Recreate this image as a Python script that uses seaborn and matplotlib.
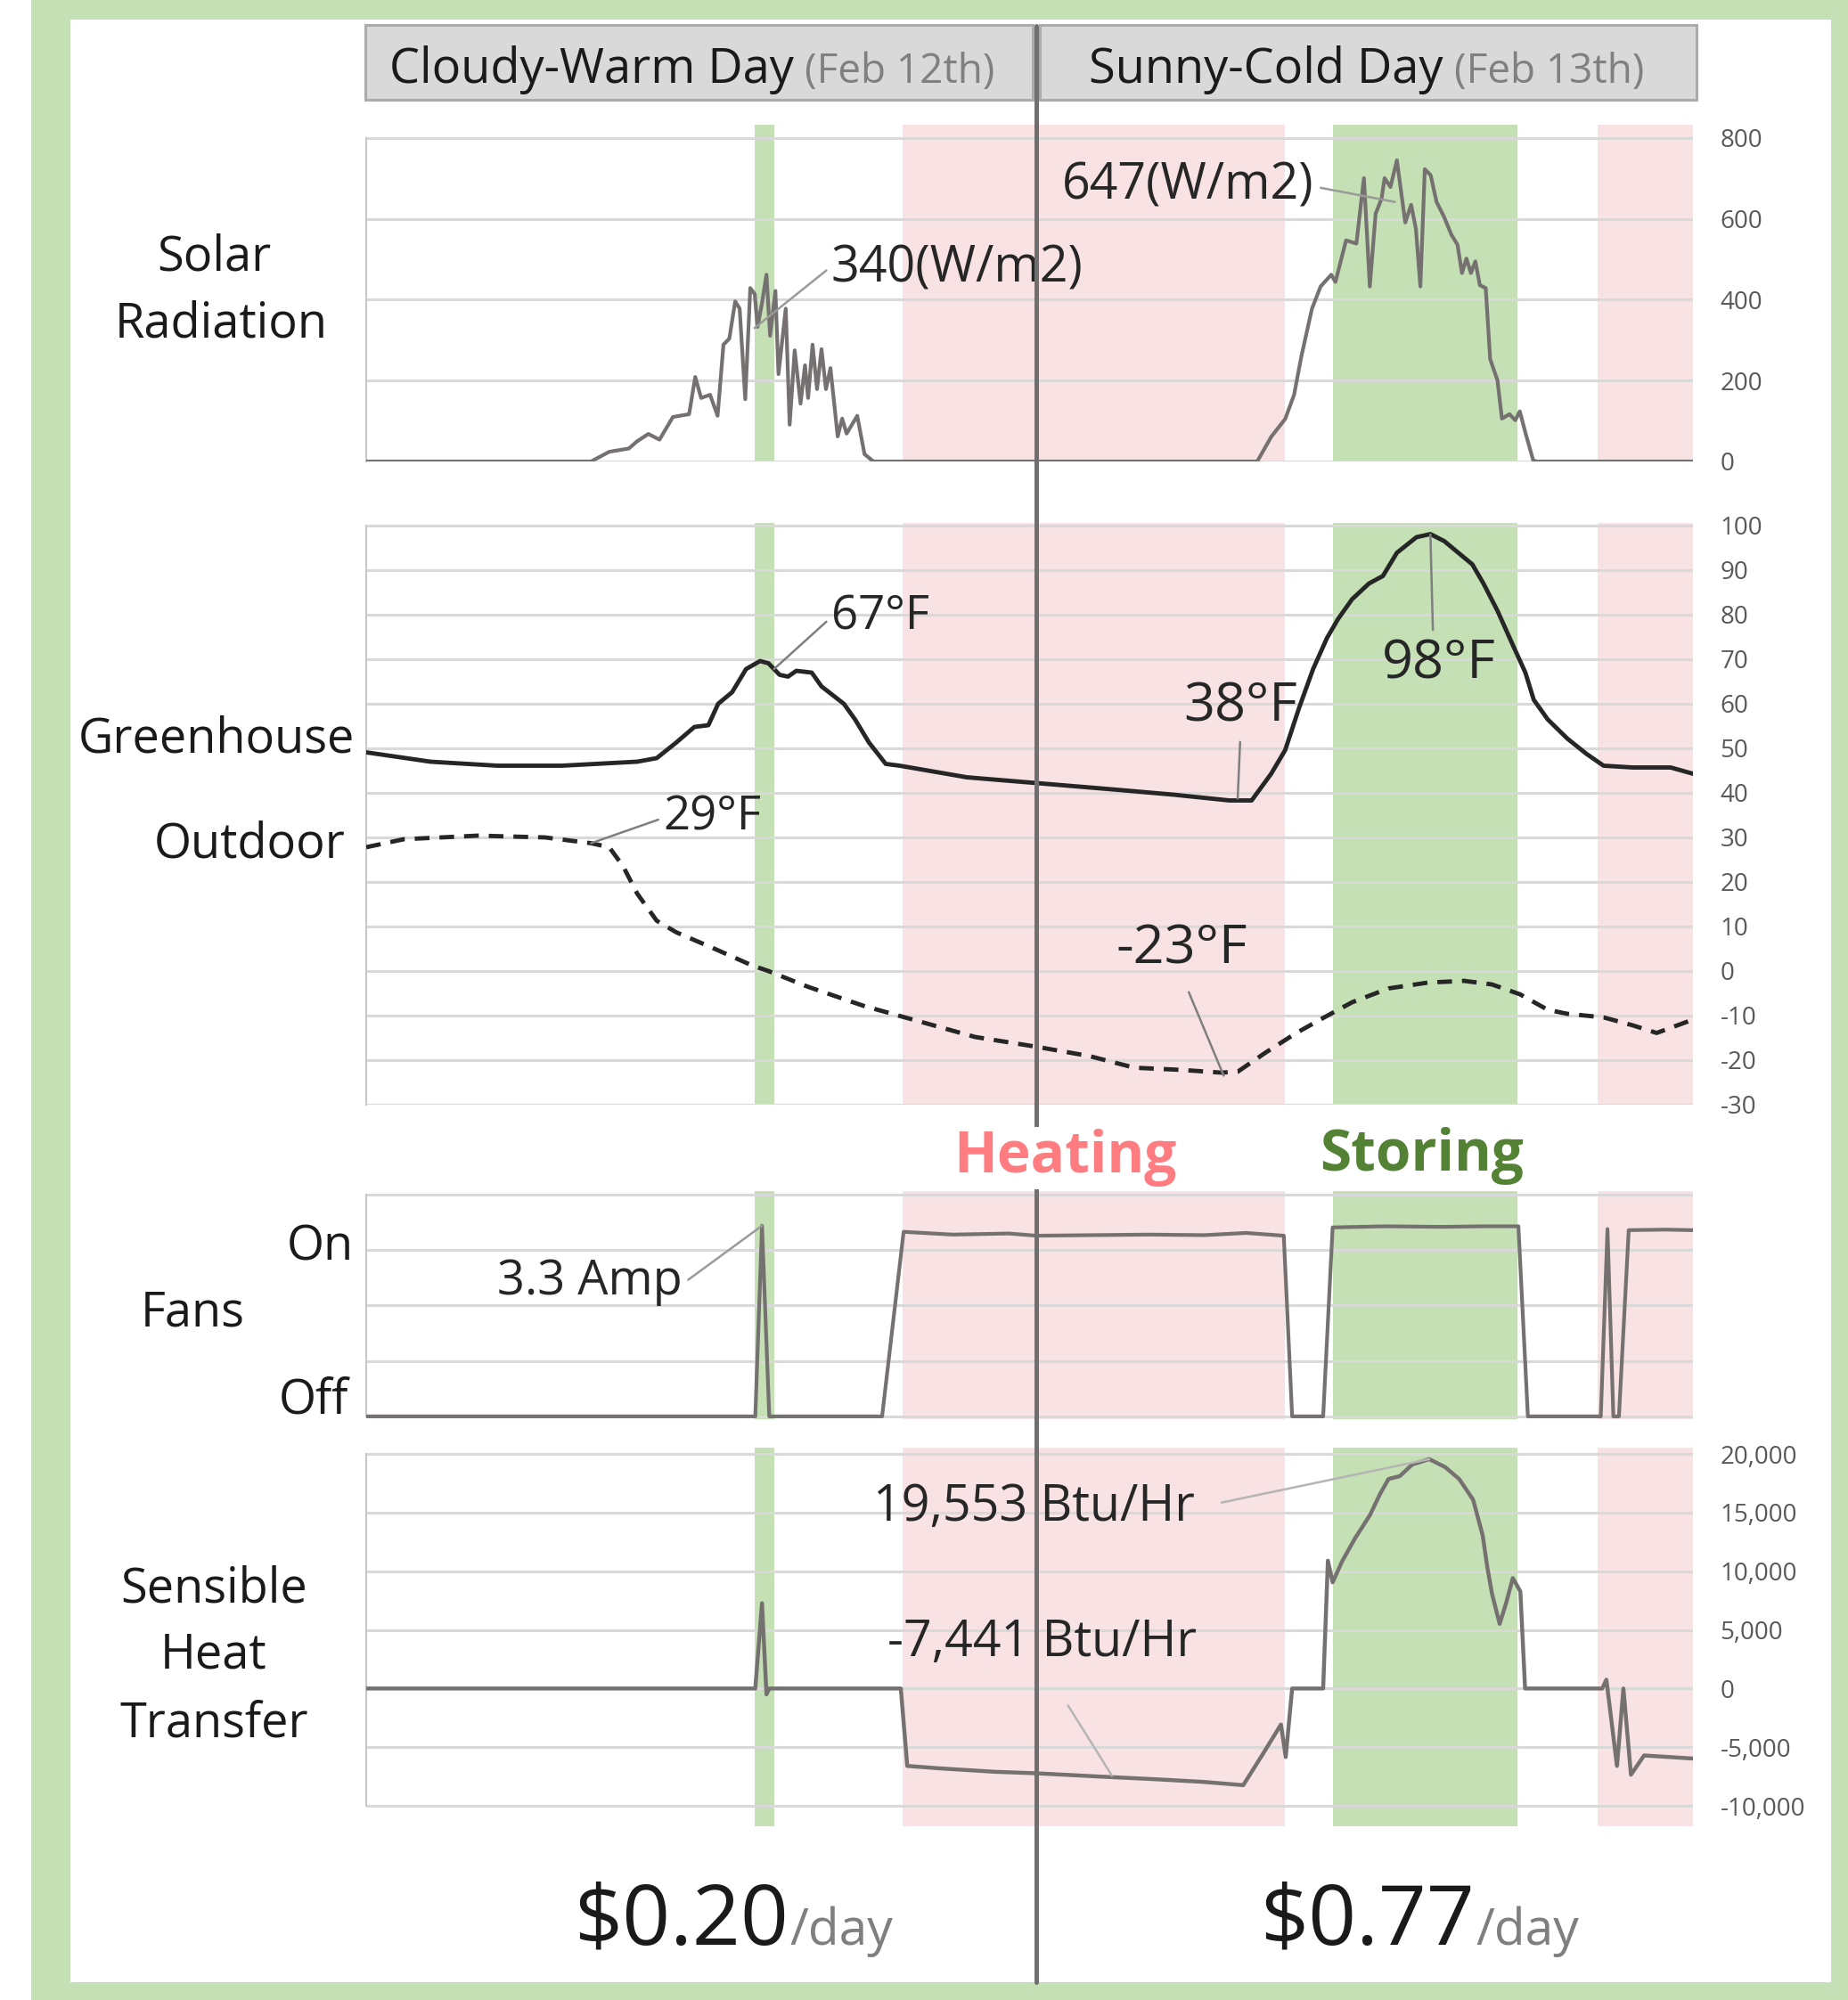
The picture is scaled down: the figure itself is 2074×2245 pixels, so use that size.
import numpy as np
import pandas as pd
import matplotlib
matplotlib.use("Agg")
import matplotlib.pyplot as plt
import seaborn as sns
from matplotlib.patches import Rectangle
from matplotlib.lines import Line2D

# ------------------------------------------------------------------ data
solar_hours = [0, 8.05, 8.7, 9.4, 9.7, 10.1, 10.5, 10.98, 11.56, 11.78,
               11.99, 12.31, 12.58, 12.79, 13.0, 13.21, 13.37, 13.57, 13.75, 13.91,
               14.01, 14.17, 14.33, 14.46, 14.65, 14.76, 15.02, 15.16, 15.34, 15.55,
               15.71, 15.82, 15.98, 16.14, 16.3, 16.46, 16.62, 16.88, 17.04, 17.2,
               17.58, 17.84, 18.16,
               31.9, 32.4, 32.9, 33.22, 33.48, 33.86, 34.17, 34.55, 34.7, 35.08,
               35.45, 35.72, 35.93, 36.14, 36.35, 36.46, 36.67, 36.9, 37.2, 37.41,
               37.58, 37.74, 37.9, 38.11, 38.32, 38.59, 38.85, 39.07, 39.23, 39.39,
               39.55, 39.71, 39.87, 40.08, 40.24, 40.5, 40.66, 40.93, 41.14, 41.3,
               41.51, 41.78, 41.9, 47.5]
solar_wm2 = [0, 0, 24, 32, 50, 68, 54, 110, 117, 209,
             157, 165, 113, 289, 304, 396, 378, 154, 429, 414,
             333, 392, 462, 311, 422, 216, 378, 91, 275, 143,
             238, 157, 289, 179, 278, 179, 231, 62, 106, 69,
             113, 18, 0,
             0, 61, 105, 165, 260, 378, 433, 462, 444, 547,
             539, 701, 433, 613, 650, 701, 679, 745, 591, 635,
             576, 433, 723, 708, 642, 605, 561, 536, 466, 502,
             466, 495, 436, 429, 253, 201, 106, 117, 102, 124,
             69, 3, 0, 0]

greenhouse_hours = [0, 2.3, 4.7, 7.0, 9.7, 10.4, 11.1, 11.75, 12.25, 12.6, 13.1, 13.6, 14.1, 14.4,
                    14.8, 15.1, 15.4, 15.95, 16.3, 17.1, 17.5, 18.0, 18.6, 19.1, 21.5, 24.0, 26.5,
                    28.9, 30.9, 31.7, 32.4, 32.9, 33.4, 33.9, 34.4, 34.8, 35.3, 35.9, 36.4, 36.9,
                    37.6, 38.1, 38.6, 39.1, 39.6, 40.0, 40.5, 41.0, 41.5, 41.8, 42.3, 43.0, 43.7,
                    44.3, 45.35, 46.7, 47.5]
greenhouse_temp = [49.1, 47.0, 46.1, 46.1, 47.0, 47.8, 51.3, 54.8, 55.2, 60.0, 62.6, 67.8, 69.6, 69.1,
                   66.5, 66.1, 67.4, 67.0, 63.9, 60.0, 56.5, 51.3, 46.5, 46.1, 43.5, 42.2, 40.9,
                   39.6, 38.3, 38.3, 44.3, 49.6, 59.1, 67.8, 74.8, 79.1, 83.5, 87.0, 88.7, 93.9,
                   97.4, 98.1, 96.5, 93.9, 91.3, 87.0, 80.9, 73.9, 67.0, 60.9, 56.5, 52.2, 48.7,
                   46.1, 45.7, 45.7, 44.3]

outdoor_hours = [0, 1.35, 4.0, 6.4, 8.05, 8.7, 9.2, 9.7, 10.4, 11.1, 12.4, 13.8, 14.4, 15.8, 17.8,
                 19.8, 21.8, 24.0, 25.9, 27.5, 29.2, 30.6, 31.2, 32.2, 33.3, 34.3, 35.3, 36.6,
                 38.0, 39.3, 40.3, 41.3, 42.3, 43.0, 44.3, 45.35, 46.2, 47.5]
outdoor_temp = [27.8, 29.6, 30.4, 30.0, 28.7, 27.8, 23.5, 17.4, 11.3, 8.7, 5.2, 1.3, 0.0, -3.5, -7.8,
                -11.3, -14.8, -17.0, -19.1, -21.7, -22.2, -22.8, -22.6, -18.3, -13.9, -10.4, -7.0,
                -3.9, -2.6, -2.2, -3.0, -5.2, -8.7, -9.6, -10.4, -12.2, -13.9, -10.9]

fan_hours = [0, 13.93, 14.17, 14.43, 18.47, 19.24, 21.0, 23.0, 24.0, 26.0, 28.0, 30.0, 31.5, 32.85,
             33.15, 34.26, 34.6, 36.5, 38.5, 40.0, 41.25, 41.59, 44.2, 44.44, 44.65, 44.85, 45.2,
             46.5, 47.5]
fan_amps = [0, 0, 3.44, 0, 0, 3.33, 3.28, 3.3, 3.26, 3.27, 3.28, 3.27, 3.31, 3.26,
            0, 0, 3.41, 3.43, 3.42, 3.43, 3.43, 0, 0, 3.38, 0, 0, 3.36,
            3.37, 3.36]

heat_hours = [0, 13.93, 14.17, 14.33, 14.43, 19.14, 19.37, 20.48, 22.5, 24.01, 26.2, 28.2, 29.9,
              31.4, 32.1, 32.75, 32.92, 33.15, 34.26, 34.43, 34.6, 34.93, 35.4, 35.94, 36.3, 36.6,
              37.0, 37.45, 38.06, 38.63, 39.13, 39.63, 39.97, 40.14, 40.31, 40.58, 40.81, 41.05,
              41.32, 41.49, 44.25, 44.4, 44.78, 45.01, 45.28, 45.75, 46.7, 47.5]
heat_btu = [0, 0, 7270, -500, 0, 0, -6600, -6800, -7100, -7230, -7500, -7730, -7950,
            -8240, -5590, -3070, -5840, 0, 0, 10900, 9050, 10800, 12800, 14800, 16600, 17860,
            18100, 19100, 19553, 18870, 17860, 16090, 13070, 10300, 8030, 5510, 7280, 9410,
            8280, 0, 0, 750, -6600, 0, -7350, -5710, -5850, -5970]

storing_spans = [(13.9, 14.6), (34.6, 41.2)]
heating_spans = [(19.2, 32.9), (44.1, 47.5)]
midnight_hour = 24

solar_ticks = [0, 200, 400, 600, 800]
temp_ticks = [-30, -20, -10, 0, 10, 20, 30, 40, 50, 60, 70, 80, 90, 100]
fan_ticks = [0, 1, 2, 3, 4]
heat_ticks = [-10000, -5000, 0, 5000, 10000, 15000, 20000]

day_titles = ["Cloudy-Warm Day", "Sunny-Cold Day"]
day_dates = ["(Feb 12th)", "(Feb 13th)"]
day_costs = ["$0.20", "$0.77"]
cost_unit = "/day"

# peak / notable values that are called out
solar_callouts = [("340(W/m2)", 13.9, 330), ("647(W/m2)", 36.83, 642)]
temp_callouts = [("67°F", 14.6, 67.8), ("38°F", 31.2, 38.7), ("98°F", 38.1, 98.0),
                 ("29°F", 8.05, 28.7), ("-23°F", 30.7, -23.5)]
fan_callouts = [("3.3 Amp", 14.17, 3.44)]
heat_callouts = [("19,553 Btu/Hr", 38.06, 19553), ("-7,441 Btu/Hr", 26.7, -7441)]

# ------------------------------------------------------------------ style
sns.set_theme(style="white")
plt.rcParams["font.family"] = ["Open Sans", "DejaVu Sans"]
plt.rcParams["axes.unicode_minus"] = False

W, H = 2074, 2245
fig = plt.figure(figsize=(W / 100, H / 100), dpi=100)
fig.patch.set_facecolor("white")

GREEN = "#c5e0b4"
PINK = "#f8e2e3"
GRID = "#d9d9d9"
LINEGRAY = "#767171"
DARK = "#262626"


def fx(px):
    return px / W


def fy(py):
    return 1 - py / H


# frame
fig.patches.append(Rectangle((fx(35), 0), 1 - fx(35), 1, transform=fig.transFigure,
                             facecolor=GREEN, edgecolor="none", zorder=-20))
fig.patches.append(Rectangle((fx(79), fy(2225)), fx(2055) - fx(79), fy(22) - fy(2225),
                             transform=fig.transFigure, facecolor="white", edgecolor="none",
                             zorder=-19))

X0, X1 = 411, 1900


def make_ax(top, bottom):
    ax = fig.add_axes([fx(X0), fy(bottom), fx(X1) - fx(X0), fy(top) - fy(bottom)])
    ax.patch.set_visible(False)
    ax.set_xlim(0, 47.5)
    ax.set_xticks([])
    for s in ["top", "right", "bottom"]:
        ax.spines[s].set_visible(False)
    ax.spines["left"].set_color("#c8c8c8")
    ax.spines["left"].set_linewidth(1.5)
    for a, b in storing_spans:
        ax.axvspan(a, b, color=GREEN, lw=0, zorder=0)
    for a, b in heating_spans:
        ax.axvspan(a, b, color=PINK, lw=0, zorder=0)
    return ax


def setup_y(ax, ticks, lim, labels=None):
    ax.set_ylim(*lim)
    for t in ticks:
        ax.axhline(t, color=GRID, lw=2.2, zorder=1)
    ax.spines["left"].set_bounds(ticks[0], ticks[-1])
    ax.yaxis.tick_right()
    ax.set_yticks(ticks)
    if labels is None:
        ax.set_yticklabels([])
    else:
        ax.set_yticklabels(labels)
    ax.tick_params(axis="y", length=0, pad=22, labelsize=20, labelcolor="#595959")
    for lab in ax.get_yticklabels():
        lab.set_horizontalalignment("left")


def draw_line(ax, xs, ys, lw, **kw):
    df = pd.DataFrame({"h": xs, "v": ys})
    n_before = len(ax.lines)
    sns.lineplot(data=df, x="h", y="v", ax=ax, estimator=None, sort=False, legend=False,
                 linewidth=lw, **kw)
    for ln in ax.lines[n_before:]:
        ln.set_linewidth(lw)
    ax.set_xlabel("")
    ax.set_ylabel("")


# panel 1: solar
ax1 = make_ax(140, 518)
setup_y(ax1, solar_ticks, (0, 833), [str(t) for t in solar_ticks])
draw_line(ax1, solar_hours, solar_wm2, 3.0, color=LINEGRAY, zorder=3)

# panel 2: temperatures
ax2 = make_ax(587, 1240)
setup_y(ax2, temp_ticks, (-30, 100.6), [str(t) for t in temp_ticks])
draw_line(ax2, greenhouse_hours, greenhouse_temp, 3.5, color=DARK, zorder=3)
draw_line(ax2, outdoor_hours, outdoor_temp, 3.5, color=DARK, zorder=3,
          linestyle=(0, (3.4, 2.3)))

# panel 3: fans
ax3 = make_ax(1337, 1593)
setup_y(ax3, fan_ticks, (-0.05, 4.065))
draw_line(ax3, fan_hours, fan_amps, 3.0, color=LINEGRAY, zorder=3)

# panel 4: sensible heat transfer
ax4 = make_ax(1625, 2050)
setup_y(ax4, heat_ticks, (-11746, 20532), [f"{t:,}" for t in heat_ticks])
draw_line(ax4, heat_hours, heat_btu, 3.2, color=LINEGRAY, zorder=3)

# ------------------------------------------------------------------ callouts
LEAD = "#9a9a9a"


def callout(ax, item, text_xy, relpos, shrinkA, size, color=LEAD):
    label, x, y = item
    ax.annotate(label, xy=(x, y), xytext=text_xy, textcoords="data",
                ha="center", va="center", fontsize=size, color="#262626", zorder=6,
                arrowprops=dict(arrowstyle="-", color=color, lw=1.8, relpos=relpos,
                                shrinkA=shrinkA, shrinkB=0))


callout(ax1, solar_callouts[0], (21.16, 476), (0, 0.55), 2, 40)
callout(ax1, solar_callouts[1], (29.43, 680), (1, 0.5), 3, 40)
callout(ax2, temp_callouts[0], (18.4, 79.4), (0, 0.5), 2, 38, "#7f7f7f")
callout(ax2, temp_callouts[1], (31.3, 59.2), (0.5, 0), 4, 44, "#7f7f7f")
callout(ax2, temp_callouts[2], (38.4, 68.8), (0.45, 1), 4, 44, "#7f7f7f")
callout(ax2, temp_callouts[3], (12.4, 34.4), (0, 0.5), 2, 38, "#7f7f7f")
callout(ax2, temp_callouts[4], (29.2, 5.0), (0.5, 0), 12, 44, "#7f7f7f")
callout(ax3, fan_callouts[0], (8.0, 2.43), (1, 0.45), 3, 39)
callout(ax4, heat_callouts[0], (23.9, 15370), (1, 0.5), 20, 40, "#b5b5b5")
callout(ax4, heat_callouts[1], (24.2, 3827), (0.51, 0), 32, 40, "#b5b5b5")

# ------------------------------------------------------------------ figure texts
mid_px = X0 + (X1 - X0) * midnight_hour / 47.5
fig.lines.append(Line2D([fx(mid_px), fx(mid_px)], [fy(29), fy(2225)], transform=fig.transFigure,
                        color="#6f6f6f", lw=3.6, zorder=4))

# header boxes
fig.patches.append(Rectangle((fx(410), fy(112)), fx(1159) - fx(410), fy(28) - fy(112),
                             transform=fig.transFigure, facecolor="#d9d9d9",
                             edgecolor="#acacac", lw=2.2, zorder=2))
fig.patches.append(Rectangle((fx(1167), fy(112)), fx(1904) - fx(1167), fy(28) - fy(112),
                             transform=fig.transFigure, facecolor="#d9d9d9",
                             edgecolor="#acacac", lw=2.2, zorder=2))

fig.canvas.draw()
renderer = fig.canvas.get_renderer()


def pair(x_px, base_px, big, small, big_size, small_size, small_color, gap_px):
    t1 = fig.text(fx(x_px), fy(base_px), big, ha="left", va="baseline", fontsize=big_size,
                  color="#1a1a1a", zorder=5)
    ext = t1.get_window_extent(renderer)
    fig.text(fx(ext.x1 + gap_px), fy(base_px), small, ha="left", va="baseline",
             fontsize=small_size, color=small_color, zorder=5)


pair(437, 93, day_titles[0], day_dates[0], 39, 33, "#808080", 12)
pair(1222, 93, day_titles[1], day_dates[1], 39, 33, "#808080", 12)
pair(644, 2183, day_costs[0], cost_unit, 68, 41, "#7f7f7f", 2)
pair(1414, 2183, day_costs[1], cost_unit, 68, 41, "#7f7f7f", 2)

# row labels
row_labels = [("Solar", 240, 289), ("Radiation", 248, 364), ("Greenhouse", 243, 830),
              ("Outdoor", 280, 948), ("On", 359, 1400), ("Fans", 216, 1474), ("Off", 352, 1572),
              ("Sensible", 240, 1784), ("Heat", 240, 1858), ("Transfer", 240, 1935)]
for txt, x, y in row_labels:
    fig.text(fx(x), fy(y), txt, ha="center", va="center", fontsize=39, color="#1a1a1a", zorder=5)

# mode labels
fig.text(fx(1195), fy(1300), "Heating", ha="center", va="center", fontsize=46,
         fontweight="bold", color="#ff7c80", zorder=6,
         bbox=dict(facecolor="white", edgecolor="none", pad=2))
fig.text(fx(1596), fy(1298), "Storing", ha="center", va="center", fontsize=46,
         fontweight="bold", color="#548235", zorder=6)

fig.savefig("out.png", dpi=100)
